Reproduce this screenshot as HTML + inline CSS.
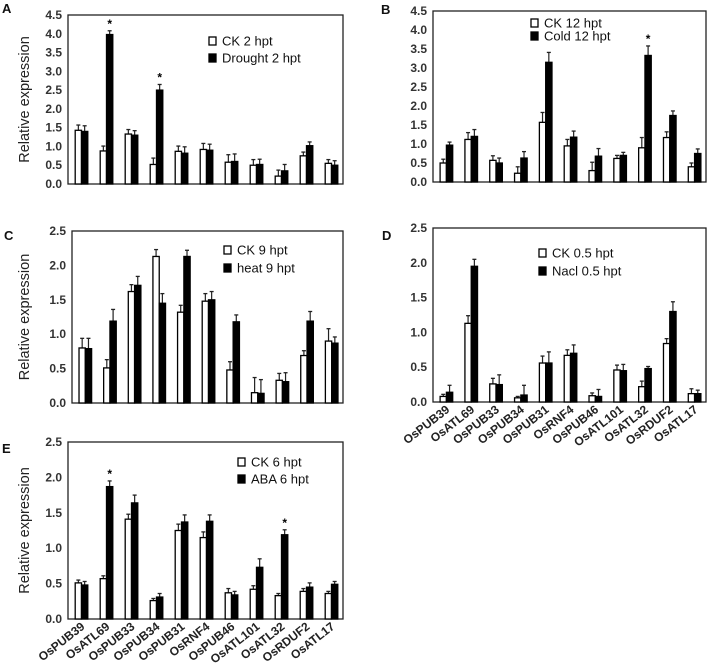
<!DOCTYPE html>
<html><head><meta charset="utf-8"><style>
body{margin:0;background:#fff;}
svg{display:block;font-family:"Liberation Sans",Arial,sans-serif;}
</style></head><body>
<svg id="chart" width="708" height="668"></svg>
<script>
const categories=["OsPUB39","OsATL69","OsPUB33","OsPUB34","OsPUB31","OsRNF4","OsPUB46","OsATL101","OsATL32","OsRDUF2","OsATL17"];
const ckA=[1.43,0.88,1.33,0.52,0.87,0.92,0.58,0.5,0.21,0.75,0.55];
const trA=[1.4,3.98,1.3,2.5,0.82,0.9,0.6,0.52,0.35,1.02,0.5];
const ckAerr=[0.14,0.13,0.12,0.17,0.14,0.16,0.2,0.15,0.16,0.1,0.1];
const trAerr=[0.15,0.1,0.12,0.15,0.17,0.16,0.2,0.14,0.17,0.1,0.12];
const ckB=[0.5,1.12,0.57,0.23,1.57,0.95,0.3,0.62,0.9,1.17,0.4];
const trB=[0.97,1.2,0.5,0.63,3.15,1.18,0.68,0.7,3.33,1.75,0.75];
const ckBerr=[0.1,0.18,0.12,0.17,0.26,0.17,0.22,0.08,0.27,0.15,0.1];
const trBerr=[0.08,0.18,0.13,0.17,0.26,0.16,0.2,0.08,0.25,0.12,0.12];
const ckC=[0.8,0.51,1.62,2.13,1.32,1.48,0.48,0.15,0.33,0.69,0.9];
const trC=[0.79,1.19,1.71,1.45,2.13,1.5,1.18,0.14,0.31,1.19,0.87];
const ckCerr=[0.14,0.12,0.1,0.1,0.1,0.11,0.12,0.22,0.1,0.07,0.18];
const trCerr=[0.15,0.17,0.13,0.14,0.09,0.12,0.1,0.2,0.13,0.14,0.09];
const ckD=[0.08,1.13,0.26,0.06,0.56,0.67,0.09,0.46,0.22,0.84,0.12];
const trD=[0.14,1.95,0.25,0.1,0.56,0.7,0.08,0.45,0.48,1.3,0.12];
const ckDerr=[0.03,0.11,0.08,0.02,0.1,0.08,0.04,0.07,0.08,0.07,0.07];
const trDerr=[0.1,0.1,0.14,0.14,0.16,0.12,0.1,0.09,0.03,0.14,0.05];
const ckE=[0.51,0.57,1.41,0.26,1.25,1.15,0.37,0.42,0.33,0.39,0.36];
const trE=[0.48,1.87,1.64,0.31,1.37,1.38,0.34,0.73,1.19,0.45,0.49];
const ckEerr=[0.04,0.04,0.07,0.03,0.09,0.08,0.06,0.05,0.03,0.04,0.03];
const trEerr=[0.05,0.08,0.11,0.05,0.1,0.09,0.05,0.12,0.07,0.06,0.04];
const ticksA=["0.0","0.5","1.0","1.5","2.0","2.5","3.0","3.5","4.0","4.5"];
const ticksC=["0.0","0.5","1.0","1.5","2.0","2.5"];
const NS="http://www.w3.org/2000/svg";
const svg=document.getElementById('chart');
function mk(tag,attrs,parent,text){const e=document.createElementNS(NS,tag);for(const k in attrs)e.setAttribute(k,attrs[k]);if(text!==undefined)e.textContent=text;(parent||svg).appendChild(e);return e;}
function panel(p){
  const g=mk('g',{});
  
  
  const ymax=parseFloat(p.ticks[p.ticks.length-1]);
  const y=v=>p.b-(v/ymax)*(p.b-p.t);
  const gw=(p.r-p.l)/categories.length, bw=6.3;
  const fr=mk('rect',{x:p.l,y:p.t,width:p.r-p.l,height:p.b-p.t,fill:'none',stroke:'#222','stroke-width':1.3},g);
  
  p.ticks.forEach(t=>{
    const tl=mk('text',{x:p.l-6,y:y(parseFloat(t))+4,'text-anchor':'end','font-size':12,'font-weight':'bold',fill:'#333'},g,t);
    
  });
  const lt=mk('text',{x:p.lx,y:p.ly,'font-size':13,'font-weight':'bold',fill:'#111'},g,p.id);
  
  if(p.ylabel){const yl=mk('text',{x:0,y:0,'font-size':14.5,fill:'#222','text-anchor':'middle',transform:`translate(29,${(p.t+p.b)/2}) rotate(-90)`},g,'Relative expression');
    }
  categories.forEach((c,i)=>{
    const cx=p.l+gw*(i+0.5)+1;
    [[p.ck,p.cke,'#fff',cx-bw],[p.tr,p.tre,'#000',cx]].forEach(([vals,errs,fill,x0],k)=>{
      const v=vals[i],e=errs[i],xc=x0+bw/2;
      mk('line',{x1:xc,x2:xc,y1:y(v),y2:y(v+e),stroke:'#222','stroke-width':1.2},g);
      mk('line',{x1:xc-2,x2:xc+2,y1:y(v+e),y2:y(v+e),stroke:'#222','stroke-width':1.3},g);
      const r=mk('rect',{x:x0,y:y(v),width:bw,height:p.b-y(v),fill:fill,stroke:'#000','stroke-width':1.3},g);
      
      
    });
    if(p.stars&&p.stars.includes(i)){
      const s=mk('text',{x:cx+bw/2,y:y(p.tr[i]+p.tre[i])-3,'text-anchor':'middle','font-size':12,'font-weight':'bold'},g,'*');
      
    }
    if(p.xlabels){
      const xl=mk('text',{x:0,y:0,'font-size':12,'font-weight':'bold',fill:'#222','text-anchor':'end',transform:`translate(${cx+4},${p.b+9}) rotate(-38)`},g,c);
      
    }
  });
  p.legend.forEach((txt,k)=>{
    const ly=p.legy+k*p.legdy;
    const sq=mk('rect',{x:p.legx,y:ly-4,width:7,height:8,fill:k?'#000':'#fff',stroke:'#000','stroke-width':1.3},g);
    
    const t=mk('text',{x:p.legx+13,y:ly+4.5,'font-size':13,fill:'#111'},g,txt);
    
  });
}
panel({id:'A',l:68,r:343,t:15,b:184,ticks:ticksA,ck:ckA,cke:ckAerr,tr:trA,tre:trAerr,lx:2,ly:13,ylabel:true,stars:[1,3],legend:['CK 2 hpt','Drought 2 hpt'],legx:209,legy:41,legdy:17});
panel({id:'B',l:433,r:706,t:11,b:182,ticks:ticksA,ck:ckB,cke:ckBerr,tr:trB,tre:trBerr,lx:381,ly:14,ylabel:false,stars:[8],legend:['CK 12 hpt','Cold 12 hpt'],legx:531,legy:23,legdy:13});
panel({id:'C',l:72,r:343,t:231,b:403,ticks:ticksC,ck:ckC,cke:ckCerr,tr:trC,tre:trCerr,lx:4,ly:240,ylabel:true,legend:['CK 9 hpt','heat 9 hpt'],legx:224,legy:250,legdy:18});
panel({id:'D',l:433,r:706,t:228,b:402,ticks:ticksC,ck:ckD,cke:ckDerr,tr:trD,tre:trDerr,lx:382,ly:240,ylabel:false,xlabels:true,legend:['CK 0.5 hpt','Nacl  0.5 hpt'],legx:539,legy:253,legdy:18});
panel({id:'E',l:68,r:343,t:442,b:619,ticks:ticksC,ck:ckE,cke:ckEerr,tr:trE,tre:trEerr,lx:2,ly:453,ylabel:true,xlabels:true,stars:[1,8],legend:['CK 6 hpt','ABA  6 hpt'],legx:238,legy:462,legdy:17});
</script>
</body></html>
